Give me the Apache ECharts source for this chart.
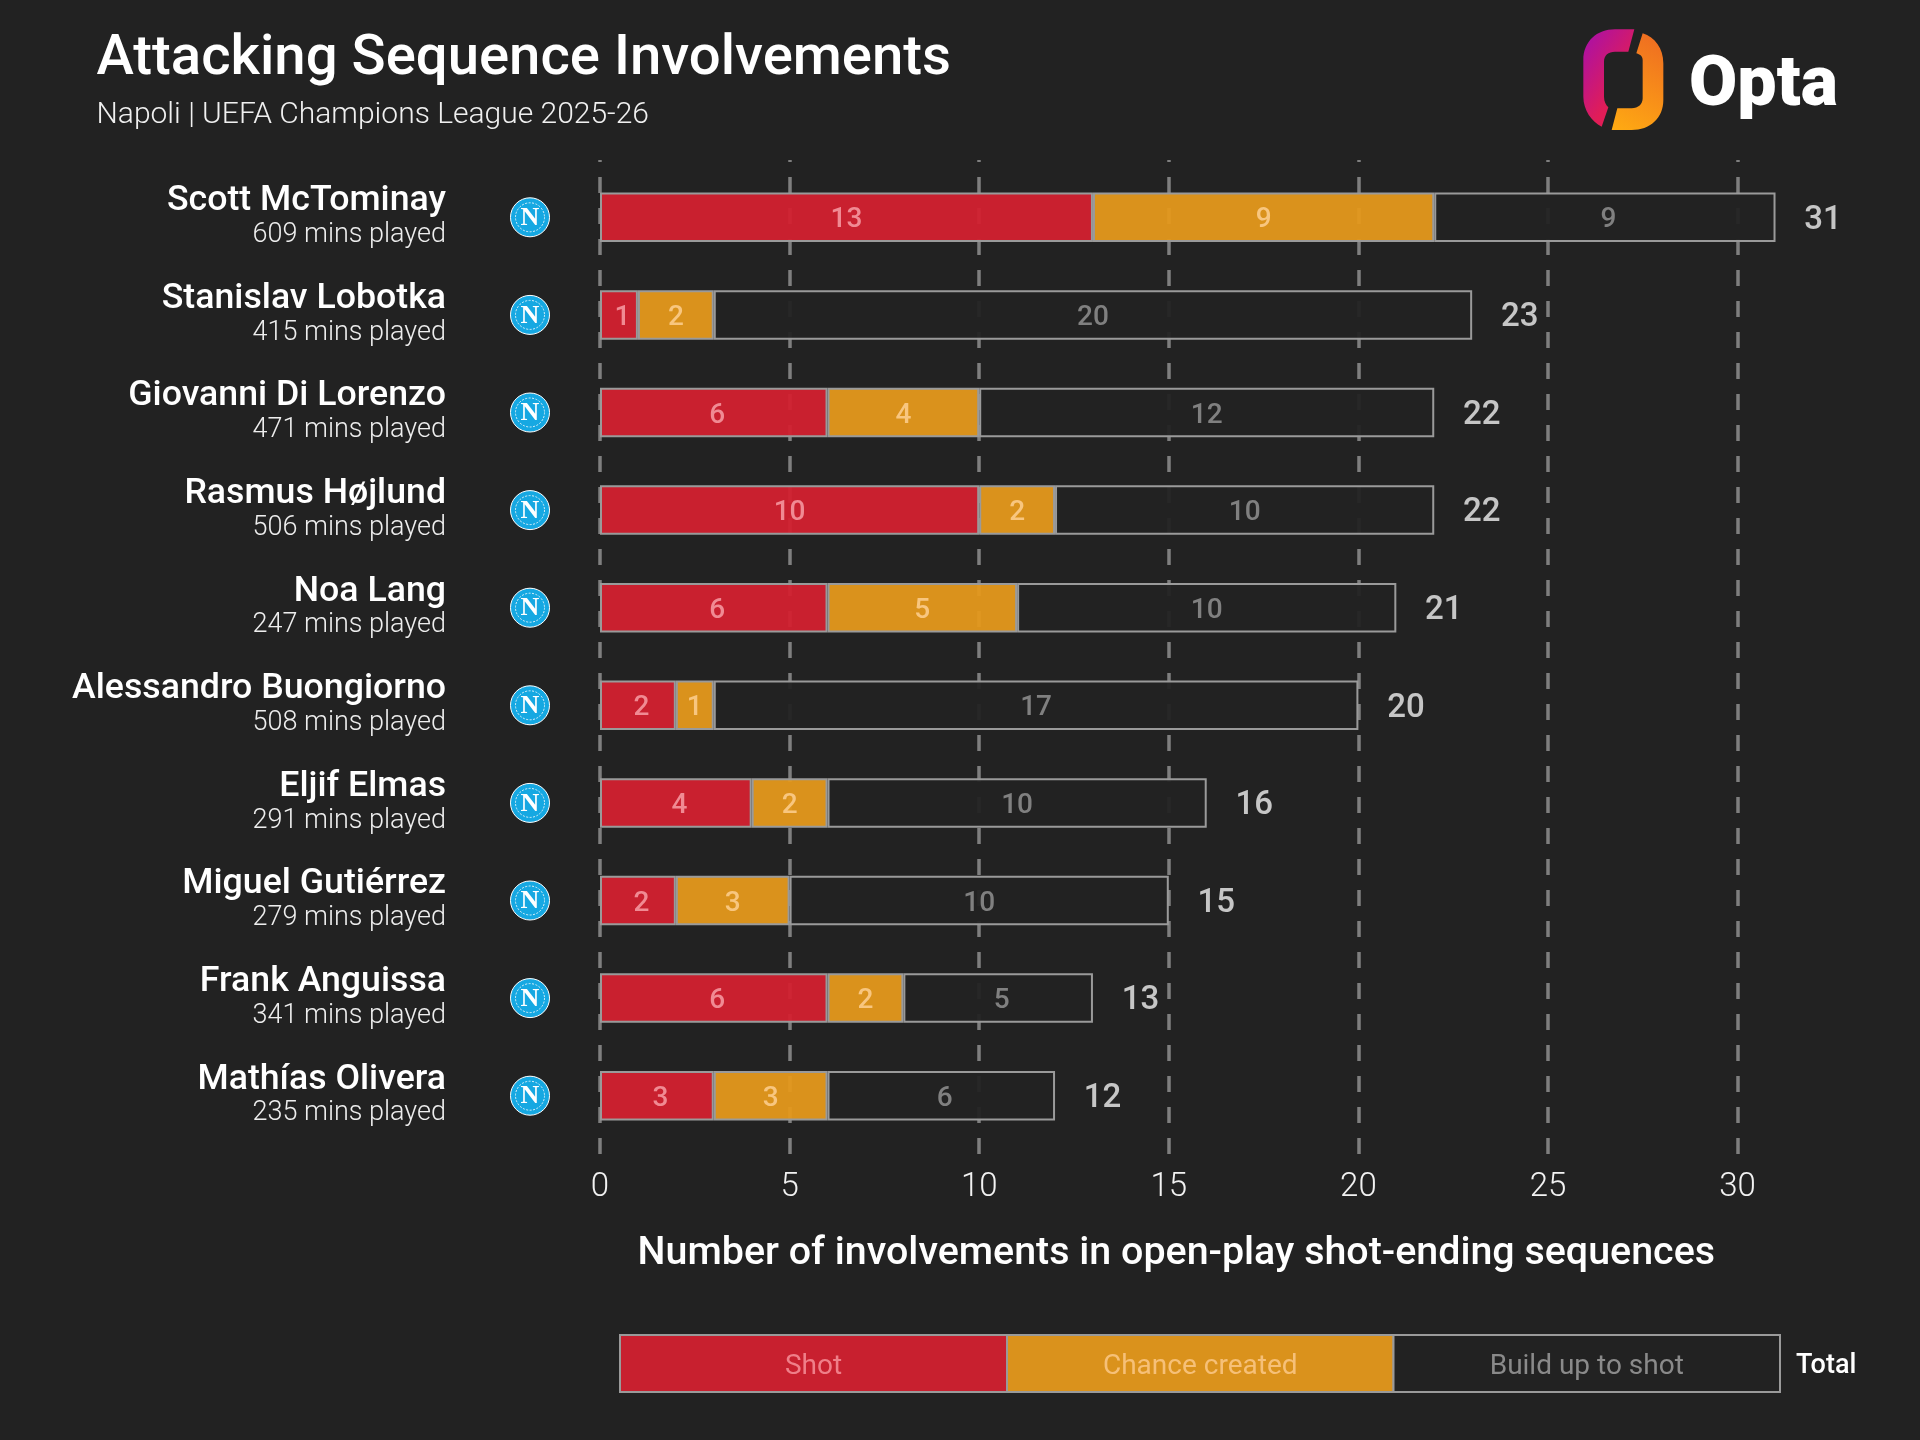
<!DOCTYPE html>
<html><head><meta charset="utf-8">
<style>html,body{margin:0;padding:0;background:#222222}#c{width:1920px;height:1440px}</style>
<script src="https://cdn.jsdelivr.net/npm/echarts@6/dist/echarts.min.js"></script>
</head><body><div id="c"></div>
<script>
const players = ['Scott McTominay','Stanislav Lobotka','Giovanni Di Lorenzo','Rasmus Højlund','Noa Lang','Alessandro Buongiorno','Eljif Elmas','Miguel Gutiérrez','Frank Anguissa','Mathías Olivera'];
const minsPlayed = [609,415,471,506,247,508,291,279,341,235];
const shots = [13,1,6,10,6,2,4,2,6,3];
const chancesCreated = [9,2,4,2,5,1,2,3,2,3];
const buildUp = [9,20,12,10,10,17,10,10,5,6];
const totals = [31,23,22,22,21,20,16,15,13,12];
const legendLabels = ['Shot','Chance created','Build up to shot','Total'];
const titleText = 'Attacking Sequence Involvements';
const subtitleText = 'Napoli | UEFA Champions League 2025-26';
const axisTitle = 'Number of involvements in open-play shot-ending sequences';

const FONT = 'Roboto';
const RED = 'rgba(211,32,48,0.94)', ORANGE = 'rgba(230,153,28,0.94)', DARK = 'rgba(34,34,34,0.94)';
const BORDER = '#9a9a9a';
const chart = echarts.init(document.getElementById('c'), null, {renderer:'canvas', width:1920, height:1440});

function seg(name, data, fill, labelColor, singleDigitShift){
  return {name, type:'bar', stack:'a', xAxisIndex:0, yAxisIndex:0, barWidth:49.5, clip:false,
    data: data.map(v=>({value:v, label:{offset:[v<10?singleDigitShift:0,3]}})),
    itemStyle:{color:fill, borderColor:BORDER, borderWidth:2},
    label:{show:true, position:'inside', color:labelColor, fontFamily:FONT, fontSize:28, fontWeight:500},
    emphasis:{disabled:true}, silent:true};
}
const badgeSeries = {
  type:'custom', xAxisIndex:0, yAxisIndex:0, silent:true, clip:false, z:3,
  data: players.map((p,i)=>[0,i]),
  renderItem(params, api){
    const y = api.coord([0, api.value(1)])[1];
    const x = 530;
    return {type:'group', children:[
      {type:'circle', shape:{cx:x,cy:y,r:19.5}, style:{fill:'#16a8e2', stroke:'#ffffff', lineWidth:1}},
      {type:'circle', shape:{cx:x,cy:y,r:14.5}, style:{fill:'none', stroke:'#d6f0fb', lineWidth:1, lineDash:[2,1.5]}},
      {type:'text', style:{x:x,y:y+1,text:'N',fill:'#fff',font:'bold 26px "Liberation Serif"',textAlign:'center',textVerticalAlign:'middle'}}
    ]};
  }
};
const totalSeries = {
  type:'scatter', xAxisIndex:0, yAxisIndex:0, symbolSize:1, silent:true, clip:false,
  itemStyle:{color:'rgba(0,0,0,0)'},
  data: totals.map((t,i)=>[t,i]),
  label:{show:true, position:'inside', offset:[47.5,3], formatter:p=>p.value[0], color:'#f0f0f0', fontFamily:FONT, fontSize:33, fontWeight:500},
  emphasis:{disabled:true}
};

const LY=1335, LH=57, LX=[620,1007,1393.5,1780];
const legendFills=['#c8202f','#da921c','#222222'];
const legendText=['#ef7f89','#f6c078','#8a8a8a'];
const legendGraphics=[];
for(let i=0;i<3;i++){
  legendGraphics.push({type:'rect',shape:{x:LX[i],y:LY,width:LX[i+1]-LX[i],height:LH},style:{fill:legendFills[i],stroke:BORDER,lineWidth:2}});
  legendGraphics.push({type:'text',x:(LX[i]+LX[i+1])/2,y:LY+LH/2+3,style:{text:legendLabels[i],fill:legendText[i],font:'400 28px '+FONT,textAlign:'center',textVerticalAlign:'middle'}});
}
legendGraphics.push({type:'text',x:1796,y:LY+LH/2+3,style:{text:legendLabels[3],fill:'#ffffff',font:'500 27px '+FONT,textAlign:'left',textVerticalAlign:'middle'}});

// Opta mark
echarts.graphic.registerShape('optaLeft', echarts.graphic.extendPath('M403 88 L345 88 C290 88 250 125 250 180 L250 290 C250 330 275 365 305 380 L325 322 C318 315 312 305 312 290 L312 185 C312 165 325 155 345 155 L385 155 Z'));
echarts.graphic.registerShape('optaRight', echarts.graphic.extendPath('M428 100 C465 112 490 145 490 190 L490 300 C490 355 450 390 395 390 L335 390 L352 325 L395 325 C415 325 428 312 428 295 L428 180 C428 170 422 164 409 160 Z'));
const logo=[
 {type:'optaLeft',x:1500,y:0,scaleX:1/3,scaleY:1/3,
  style:{fill:new echarts.graphic.LinearGradient(0,0,1,0.35,[{offset:0,color:'#a50fae'},{offset:1,color:'#e11d57'}])}},
 {type:'optaRight',x:1500,y:0,scaleX:1/3,scaleY:1/3,
  style:{fill:new echarts.graphic.LinearGradient(0,1,1,0,[{offset:0,color:'#ffab12'},{offset:1,color:'#ee6a22'}])}},
 {type:'text',x:1689,y:87,style:{text:'Opta',fill:'#fff',font:'900 70px '+FONT,textAlign:'left',textVerticalAlign:'middle'}}
];

chart.setOption({
  backgroundColor:'#222222',
  animation:false,
  title:{left:91.5,top:27,text:titleText,subtext:subtitleText,itemGap:12,
    textStyle:{color:'#fff',fontFamily:FONT,fontSize:56.3,fontWeight:500},
    subtextStyle:{color:'#f0f0f0',fontFamily:FONT,fontSize:30,fontWeight:300}},
  grid:[
    {left:600,top:168.5,width:1137.6,height:976},
    {left:600,top:160,width:1137.6,height:995}
  ],
  xAxis:[
    {gridIndex:0,type:'value',min:0,max:30,interval:5,show:false},
    {gridIndex:1,type:'value',min:0,max:30,interval:5,position:'bottom',
     axisLine:{show:false},axisTick:{show:false},
     splitLine:{show:true,lineStyle:{color:'#7f7f7f',width:3.5,type:[16,15],dashOffset:14}},
     axisLabel:{color:'#f2f2f2',fontFamily:FONT,fontSize:33,fontWeight:300,margin:16},
     name:axisTitle,nameLocation:'middle',nameGap:80,
     nameTextStyle:{color:'#fff',fontFamily:FONT,fontSize:39.4,fontWeight:500,padding:[0,0,0,15]}}
  ],
  yAxis:[
    {gridIndex:0,type:'category',inverse:true,data:players,
     axisLine:{show:false},axisTick:{show:false},splitLine:{show:false},
     axisLabel:{margin:154,align:'right',
       formatter:(v,i)=>'{n|'+v+'}\n{m|'+minsPlayed[i]+' mins played}',
       rich:{n:{color:'#fff',fontFamily:FONT,fontSize:35.7,fontWeight:500,lineHeight:36,align:'right'},
             m:{color:'#eeeeee',fontFamily:FONT,fontSize:27,fontWeight:300,lineHeight:32,align:'right'}}}},
    {gridIndex:1,type:'value',min:0,max:1,show:false}
  ],
  series:[
    seg(legendLabels[0],shots,RED,'#f08a93',3.5),
    seg(legendLabels[1],chancesCreated,ORANGE,'#f8c67f',0),
    seg(legendLabels[2],buildUp,DARK,'#808080',3.5),
    badgeSeries,
    totalSeries
  ],
  graphic:{elements:[...logo,...legendGraphics]}
});
</script></body></html>
